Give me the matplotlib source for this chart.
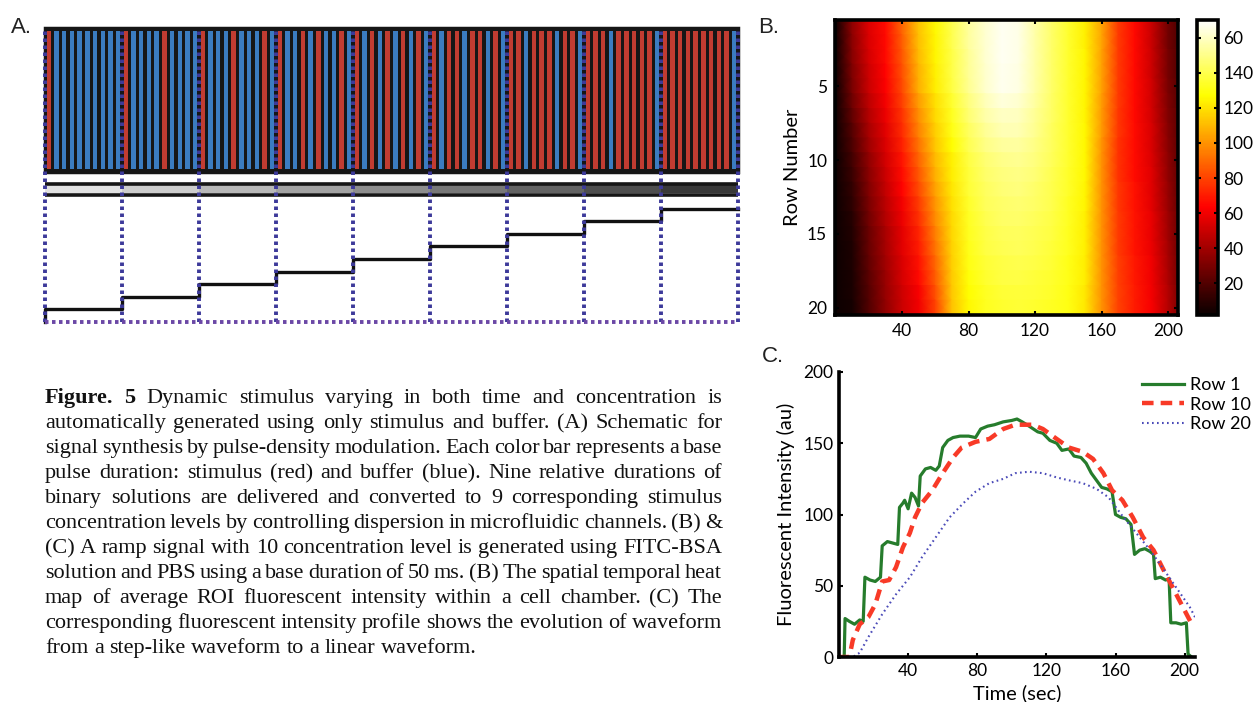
import matplotlib.pyplot as plt
from matplotlib.patches import Rectangle
import numpy as np

plt.rcParams['font.family'] = ['Lato', 'DejaVu Sans']

W, H = 1254, 702
fig = plt.figure(figsize=(W / 100, H / 100), dpi=100)


def axes_px(left, top, right, bottom):
    # axes placed by pixel edges measured from the top-left corner
    return fig.add_axes([left / W, 1 - bottom / H, (right - left) / W, (bottom - top) / H])


# ---- panel A: pulse-density modulation schematic ----
slots_per_period = 10
red_slots = [[0], [0, 5], [0, 4, 8], [0, 3, 5, 8], [0, 2, 4, 6, 8],
             [0, 2, 3, 5, 6, 8], [0, 1, 3, 4, 5, 7, 8],
             [0, 1, 2, 4, 5, 6, 7, 8], [0, 1, 2, 3, 4, 5, 6, 7, 8]]
concentration = [len(r) / slots_per_period for r in red_slots]

# ---- panel B: heat map, rows 1-20 sampled at these times (s) ----
time_pts = [0, 10, 20, 30, 40, 50, 60, 70, 80, 90, 100, 110, 120, 130, 140, 150, 160, 170, 180, 190, 200, 206]
row_ids = np.arange(1, 21)
intensity = np.array([
    [3, 35, 55, 66, 88, 112, 126, 140, 153, 162, 168, 166, 155, 145, 135, 124, 105, 78, 65, 50, 28, 20],
    [3, 34, 54, 65, 86, 111, 125, 140, 153, 162, 168, 166, 155, 145, 135, 124, 105, 78, 65, 50, 28, 20],
    [3, 33, 53, 65, 85, 110, 125, 139, 152, 162, 168, 166, 155, 145, 135, 125, 104, 78, 65, 51, 29, 21],
    [3, 31, 51, 64, 83, 108, 124, 139, 152, 161, 167, 165, 155, 145, 135, 125, 104, 78, 65, 51, 29, 21],
    [3, 30, 50, 63, 82, 107, 123, 138, 151, 161, 167, 165, 155, 145, 135, 125, 104, 78, 65, 52, 30, 22],
    [3, 27, 47, 61, 79, 103, 120, 135, 148, 158, 164, 162, 154, 144, 135, 125, 103, 78, 65, 52, 31, 22],
    [3, 24, 44, 59, 76, 99, 118, 132, 146, 155, 160, 159, 152, 144, 135, 125, 102, 77, 65, 53, 32, 23],
    [3, 21, 42, 56, 74, 96, 115, 130, 143, 152, 157, 157, 151, 143, 135, 126, 102, 77, 66, 54, 33, 23],
    [3, 19, 39, 54, 71, 92, 113, 127, 141, 149, 153, 154, 149, 143, 135, 126, 101, 76, 66, 54, 34, 24],
    [3, 16, 36, 52, 68, 88, 110, 124, 138, 146, 150, 151, 148, 142, 135, 126, 100, 76, 66, 55, 35, 24],
    [3, 14, 34, 50, 66, 85, 107, 123, 137, 145, 148, 149, 147, 141, 134, 126, 100, 76, 66, 56, 36, 25],
    [3, 12, 32, 48, 64, 82, 104, 121, 136, 143, 147, 148, 145, 140, 134, 125, 100, 77, 67, 56, 37, 25],
    [3, 11, 30, 46, 61, 78, 101, 120, 134, 142, 145, 146, 144, 140, 133, 125, 100, 77, 67, 57, 38, 26],
    [3, 9, 28, 44, 59, 75, 98, 118, 133, 140, 144, 145, 142, 139, 133, 124, 100, 78, 68, 58, 39, 27],
    [3, 8, 26, 42, 57, 72, 95, 117, 132, 139, 142, 143, 141, 138, 132, 124, 100, 78, 68, 58, 40, 27],
    [3, 7, 25, 41, 56, 70, 92, 116, 131, 138, 141, 142, 140, 137, 132, 124, 100, 78, 68, 59, 41, 28],
    [3, 7, 24, 40, 54, 67, 89, 115, 130, 136, 139, 140, 139, 136, 131, 123, 100, 79, 69, 60, 42, 29],
    [3, 6, 22, 38, 53, 65, 86, 114, 128, 135, 138, 139, 137, 135, 131, 123, 100, 79, 69, 60, 43, 30],
    [3, 6, 21, 37, 51, 62, 83, 113, 127, 133, 136, 137, 136, 134, 130, 122, 100, 80, 70, 61, 44, 31],
    [3, 5, 20, 36, 50, 60, 80, 112, 126, 132, 135, 136, 135, 133, 130, 122, 100, 80, 70, 62, 45, 32],
])
cbar_ticks = [20, 40, 60, 80, 100, 120, 140, 160]
cbar_labels = ['20', '40', '60', '80', '100', '120', '140', '60']

# ---- panel C: intensity profiles ----
row1_t = [0, 3, 3.5, 6, 9, 12, 14, 15, 18, 21, 24, 25, 28, 31, 34, 35, 37, 38, 40, 42,
          44, 46, 47, 50, 53, 56, 58, 60, 63, 66, 70, 75, 79, 82, 86, 90, 95, 100, 103, 106,
          110, 115, 118, 122, 126, 129, 133, 136, 140, 143, 146, 149, 152, 155, 158, 160, 163, 166, 169, 171,
          174, 177, 180, 182, 183, 186, 189, 191, 192, 195, 198, 201, 202, 204]
row1_v = [0, 0, 27, 25, 23, 26, 25, 56, 54, 53, 56, 78, 81, 80, 79, 105, 108, 110, 104, 115,
          112, 106, 127, 132, 133, 131, 134, 147, 152, 154, 155, 155, 154, 160, 162, 163, 165, 166, 167, 165,
          162, 158, 157, 152, 150, 145, 146, 141, 140, 136, 129, 124, 119, 118, 116, 100, 98, 97, 93, 72,
          75, 76, 74, 72, 55, 56, 54, 55, 24, 24, 23, 24, 2, 0]
row10_t = [0, 6, 8, 12, 17, 21, 25, 29, 33, 37, 41, 44, 48, 54, 60, 66, 71, 79, 87, 95,
           102, 112, 118, 126, 133, 141, 147, 153, 158, 164, 170, 176, 182, 187, 193, 199, 205]
row10_v = [0, 0, 12, 23, 28, 37, 53, 54, 63, 77, 87, 98, 108, 117, 129, 140, 147, 151, 153, 160,
           163, 163, 160, 153, 147, 144, 139, 129, 117, 110, 98, 84, 75, 63, 49, 35, 21]
row20_t = [0, 8, 12, 17, 25, 33, 41, 48, 56, 64, 72, 79, 87, 95, 102, 110, 118, 126, 133, 141,
           149, 156, 164, 172, 180, 187, 195, 203, 206]
row20_v = [0, 0, 3, 14, 30, 44, 56, 70, 84, 98, 108, 116, 122, 125, 129, 130, 129, 126, 124, 122,
           118, 112, 99, 87, 75, 63, 49, 35, 28]

caption = [
    "Figure. 5 Dynamic stimulus varying in both time and concentration is",
    "automatically generated using only stimulus and buffer. (A) Schematic for",
    "signal synthesis by pulse-density modulation. Each color bar represents a base",
    "pulse duration: stimulus (red) and buffer (blue). Nine relative durations of",
    "binary solutions are delivered and converted to 9 corresponding stimulus",
    "concentration levels by controlling dispersion in microfluidic channels. (B) &",
    "(C) A ramp signal with 10 concentration level is generated using FITC-BSA",
    "solution and PBS using a base duration of 50 ms. (B) The spatial temporal heat",
    "map of average ROI fluorescent intensity within a cell chamber. (C) The",
    "corresponding fluorescent intensity profile shows the evolution of waveform",
    "from a step-like waveform to a linear waveform.",
]

# ======== panel A ========
n = len(red_slots)
axa = axes_px(45, 28, 738, 324)
axa.set_xlim(0, n)
axa.set_ylim(0, 296)
axa.axis('off')

axa.add_patch(Rectangle((0, 152), n, 144, facecolor='#161616', edgecolor='#161616',
                        lw=2.5, clip_on=False))
for seg, reds in enumerate(red_slots):
    xs = seg + (np.arange(slots_per_period) + 0.5) / slots_per_period
    cols = ['#c13c31' if k in reds else '#3b7cc0' for k in range(slots_per_period)]
    axa.bar(xs, 138, width=0.058, bottom=155, color=cols, linewidth=0)

# concentration bar
grays = [str(round(0.97 - 0.83 * c, 3)) for c in concentration]
axa.bar(np.arange(n) + 0.5, 8, width=1, bottom=131, color=grays, linewidth=0)
axa.hlines([129.5, 140.5], 0, n, color='#161616', lw=2.6, clip_on=False)

# resulting concentration staircase
levels = 2 + 126 * np.array(concentration)
axa.plot(np.r_[0, np.arange(n + 1)], np.r_[2, levels, levels[-1]],
         drawstyle='steps-post', color='#111111', lw=2.4, clip_on=False, zorder=4)

axa.vlines(np.arange(n + 1), 2, 294, colors='#3d3a9a', lw=2.8,
           linestyles=(0, (0.9, 0.9)), clip_on=False, zorder=5)
axa.hlines(2, 0, n, colors='#6b48a6', lw=2.8, linestyles=(0, (0.9, 0.9)),
           clip_on=False, zorder=5)

# ======== panel B ========
axb = axes_px(835.5, 20, 1178, 315)
# each row is a flat band, smooth along time
band_y = np.repeat(row_ids, 2) + np.tile([-0.5, 0.5], len(row_ids))
band_c = np.repeat(intensity, 2, axis=0)
tt, yy = np.meshgrid(time_pts, band_y)
im = axb.pcolormesh(tt, yy, band_c, cmap='hot', vmin=2, vmax=170, shading='gouraud')
axb.set_xlim(0, 206)
axb.set_ylim(20.5, 0.5)
axb.set_xticks([40, 80, 120, 160, 200])
axb.set_yticks([5, 10, 15, 20])
axb.tick_params(direction='in', top=True, right=True, length=3, width=1.5,
                labelsize=12.5, pad=6)
for sp in axb.spines.values():
    sp.set_linewidth(2.6)
axb.set_ylabel('Row Number', fontsize=14.5, labelpad=4)

cax = axes_px(1197, 20, 1218, 315)
cb = fig.colorbar(im, cax=cax)
cb.set_ticks(cbar_ticks)
cb.set_ticklabels(cbar_labels)
cb.outline.set_linewidth(2.6)
cax.tick_params(direction='in', left=True, right=True, length=3, width=1.5,
                labelsize=12.5, pad=4)

# ======== panel C ========
axc = axes_px(839, 372, 1195, 657)
axc.plot(row1_t, row1_v, color='#267c2c', lw=2.3, label='Row 1')
axc.plot(row10_t, row10_v, color='#f83a27', lw=3.2, dashes=(2.6, 1.6), label='Row 10')
axc.plot(row20_t, row20_v, color='#4a4ab8', lw=1.5, dashes=(0.8, 1.6), label='Row 20')
axc.set_xlim(0, 206)
axc.set_ylim(0, 200)
axc.set_xticks([40, 80, 120, 160, 200])
axc.set_yticks([0, 50, 100, 150, 200])
axc.spines['top'].set_visible(False)
axc.spines['right'].set_visible(False)
axc.spines['left'].set_linewidth(2.6)
axc.spines['bottom'].set_linewidth(2.6)
axc.tick_params(direction='in', length=3, width=1.5, labelsize=12.5, pad=4)
axc.set_ylabel('Fluorescent Intensity (au)', fontsize=14.5, labelpad=6)
axc.set_xlabel('Time (sec)', fontsize=14.5, labelpad=4)
axc.legend(loc='upper left', bbox_to_anchor=(1142 / W, 1 - 377 / H),
           bbox_transform=fig.transFigure, frameon=False, fontsize=13,
           handlelength=2.3, handletextpad=0.35, labelspacing=0.2,
           borderpad=0, borderaxespad=0)

# panel letters
for letter, x, y in [('A.', 11, 33), ('B.', 758, 33), ('C.', 762, 362)]:
    fig.text(x / W, 1 - y / H, letter, fontsize=16, family='Liberation Sans',
             va='baseline', color='#222222')


# ======== caption, justified ========
def justify(lines, x0, x1, y0, dy, size):
    r = fig.canvas.get_renderer()
    space = size * 100 / 72 * 0.25
    for i, line in enumerate(lines):
        words = line.split()
        arts = []
        for j, w in enumerate(words):
            bold = i == 0 and j < 2
            arts.append(fig.text(0, 1 - (y0 + i * dy) / H, w, fontsize=size,
                                 family='Liberation Serif', va='baseline',
                                 weight='bold' if bold else 'normal', color='#111111'))
        widths = [a.get_window_extent(r).width for a in arts]
        if i < len(lines) - 1:
            gap = (x1 - x0 - sum(widths)) / (len(words) - 1)
        else:
            gap = space
        x = x0
        for a, w in zip(arts, widths):
            a.set_x(x / W)
            x += w + gap


justify(caption, 45, 722, 403, 25.0, 16.0)

fig.savefig('out.png', dpi=100, facecolor='white')
